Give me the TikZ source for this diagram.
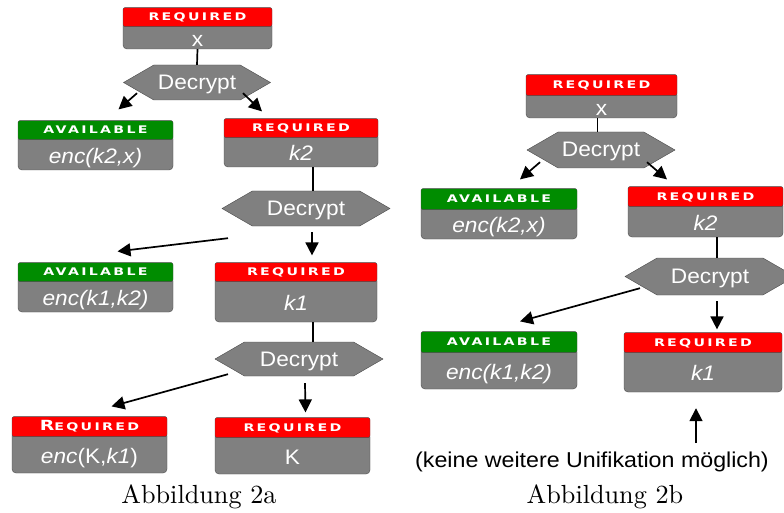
\documentclass[tikz,border=0pt]{standalone}
\usepackage{fontspec}
\usepackage{tikz}
\usetikzlibrary{arrows.meta,positioning,shapes.symbols}
\newfontfamily\arialx[FakeStretch=1.08]{Liberation Sans}
\newfontfamily\hdrx[FakeStretch=1.35,LetterSpace=22]{DejaVu Sans}
\definecolor{redx}{HTML}{FF0000}
\definecolor{greenx}{HTML}{008C00}
\definecolor{grayx}{HTML}{808080}
\definecolor{edgex}{HTML}{4A4A4A}
\tikzset{
  body/.style={draw=edgex,fill=grayx,rounded corners=4pt,text=white,inner sep=0pt,
    font=\arialx\fontsize{21}{21}\selectfont,text height=21.6pt,text depth=0pt},
  req/.style={draw=edgex,fill=redx,rounded corners=2pt,text=white,inner sep=0pt,anchor=south,
    font=\hdrx\bfseries\fontsize{10.5}{11}\selectfont,text height=7.6pt,text depth=0pt},
  avl/.style={req,fill=greenx},
  dec/.style={signal,signal to=east and west,signal pointer angle=60,draw=edgex,fill=grayx,
    text=white,inner sep=0pt,font=\arialx\fontsize{21}{21}\selectfont,text height=14pt,text depth=0pt},
  capt/.style={font=\fontsize{10}{12}\selectfont},
  ar/.style={-{Triangle[length=13pt,width=13pt]},line width=1.7pt},
  ln/.style={line width=1.7pt}
}
\begin{document}
\begin{tikzpicture}[x=1pt,y=-1pt]
\useasboundingbox (0,0) rectangle (784,513);
\clip (0,0) rectangle (784,513);
% Abbildung 2a
\node[body,minimum width=149pt,minimum height=27pt] (xa) at (197.5,35.5) {x};
\node[req,minimum width=149pt,minimum height=19pt] (xah) at ([yshift=-5pt]xa.north) {REQUIRED};
\node[dec,minimum width=147pt,minimum height=35pt] (hxa) at (197,82.5) {Decrypt};
\node[body,minimum width=155pt,minimum height=35pt] (ak2x) at (95.5,152.5) {\itshape enc(k2,x)};
\node[avl,minimum width=155pt,minimum height=19pt] (ak2xh) at ([yshift=-5pt]ak2x.north) {AVAILABLE};
\node[body,minimum width=154pt,minimum height=34pt] (rk2) at (301,150) {\itshape k2};
\node[req,minimum width=154pt,minimum height=19pt] (rk2h) at ([yshift=-5pt]rk2.north) {REQUIRED};
\node[dec,minimum width=168pt,minimum height=35pt] (hxb) at (306,208.5) {Decrypt};
\node[body,minimum width=155pt,minimum height=35pt] (ak1k2) at (95.5,294.5) {\itshape enc(k1,k2)};
\node[avl,minimum width=155pt,minimum height=19pt] (ak1k2h) at ([yshift=-5pt]ak1k2.north) {AVAILABLE};
\node[body,minimum width=162pt,minimum height=45pt] (rk1) at (296,299.5) {\itshape k1};
\node[req,minimum width=162pt,minimum height=19pt] (rk1h) at ([yshift=-5pt]rk1.north) {REQUIRED};
\node[dec,minimum width=168pt,minimum height=34pt] (hxc) at (299,359) {Decrypt};
\node[body,minimum width=155pt,minimum height=41pt] (rkk1) at (89.5,452.5) {\textit{enc}(K,\textit{k1})};
\node[req,minimum width=155pt,minimum height=20pt] (rkk1h) at ([yshift=-5pt]rkk1.north) {{\fontsize{14}{14}\selectfont R}EQUIRED};
\node[body,minimum width=155pt,minimum height=41pt] (rkk) at (292.5,453.5) {K};
\node[req,minimum width=155pt,minimum height=20pt] (rkkh) at ([yshift=-5pt]rkk.north) {REQUIRED};
\node[capt] (capa) at (199,497) {\scalebox{2.62}{Abbildung 2a}};
\draw[ln] (xa.south) -- (hxa.north);
\draw[ar] ([xshift=-60pt,yshift=7pt]hxa.south) -- ([xshift=23pt,yshift=11pt]ak2xh.north);
\draw[ar] ([xshift=46pt,yshift=7pt]hxa.south) -- ([xshift=-39pt,yshift=7pt]rk2h.north);
\draw[ln] ([xshift=12pt]rk2.south) -- ([xshift=12pt]rk2.south |- hxb.north);
\draw[ar] ([xshift=-78pt,yshift=-12pt]hxb.south) -- ([xshift=22pt,yshift=11pt]ak1k2h.north);
\draw[ar] ([xshift=6pt,yshift=-6pt]hxb.south) -- ([xshift=16pt,yshift=7pt]rk1h.north);
\draw[ln] ([xshift=17pt]rk1.south) -- ([xshift=17pt]rk1.south |- hxc.north);
\draw[ar] ([xshift=-71pt,yshift=2pt]hxc.south) -- ([xshift=22pt,yshift=10pt]rkk1h.north);
\draw[ar] ([xshift=6pt,yshift=-7pt]hxc.south) -- ([xshift=13pt,yshift=5pt]rkkh.north);
% Abbildung 2b
\node[body,minimum width=151pt,minimum height=27pt] (xb) at (601.5,104.5) {x};
\node[req,minimum width=151pt,minimum height=21pt] (xbh) at ([yshift=-5pt]xb.north) {REQUIRED};
\node[dec,minimum width=148pt,minimum height=36pt] (hya) at (601,150) {Decrypt};
\node[body,minimum width=156pt,minimum height=34pt] (bk2x) at (499,222) {\itshape enc(k2,x)};
\node[avl,minimum width=156pt,minimum height=21pt] (bk2xh) at ([yshift=-5pt]bk2x.north) {AVAILABLE};
\node[body,minimum width=155pt,minimum height=35pt] (bk2) at (705.5,219.5) {\itshape k2};
\node[req,minimum width=155pt,minimum height=20pt] (bk2h) at ([yshift=-5pt]bk2.north) {REQUIRED};
\node[dec,minimum width=170pt,minimum height=37pt] (hyb) at (710,276.5) {Decrypt};
\node[body,minimum width=156pt,minimum height=41pt] (bk1k2) at (499,368.5) {\itshape enc(k1,k2)};
\node[avl,minimum width=156pt,minimum height=21pt] (bk1k2h) at ([yshift=-5pt]bk1k2.north) {AVAILABLE};
\node[body,minimum width=158pt,minimum height=44pt] (bk1) at (703,370) {\itshape k1};
\node[req,minimum width=158pt,minimum height=20pt] (bk1h) at ([yshift=-5pt]bk1.north) {REQUIRED};
\node[font=\arialx\fontsize{21.5}{21.5}\selectfont] (note) at (592,462) {(keine weitere Unifikation möglich)};
\node[capt] (capb) at (605,497) {\scalebox{2.62}{Abbildung 2b}};
\draw[ln] ([xshift=-4pt]xb.south) -- ([xshift=-4pt]xb.south |- hya.north);
\draw[ar] ([xshift=-61pt,yshift=6pt]hya.south) -- ([xshift=21pt,yshift=9pt]bk2xh.north);
\draw[ar] ([xshift=46pt,yshift=6pt]hya.south) -- ([xshift=-38.5pt,yshift=7pt]bk2h.north);
\draw[ln] ([xshift=11.5pt]bk2.south) -- ([xshift=11.5pt]bk2.south |- hyb.north);
\draw[ar] ([xshift=-70pt,yshift=7pt]hyb.south) -- ([xshift=21pt,yshift=10pt]bk1k2h.north);
\draw[ar] ([xshift=7pt,yshift=-6pt]hyb.south) -- ([xshift=14pt,yshift=3pt]bk1h.north);
\draw[ar] ([xshift=-7pt,yshift=-51pt]bk1.south) -- ([xshift=-7pt,yshift=-16pt]bk1.south);
\end{tikzpicture}
\end{document}
